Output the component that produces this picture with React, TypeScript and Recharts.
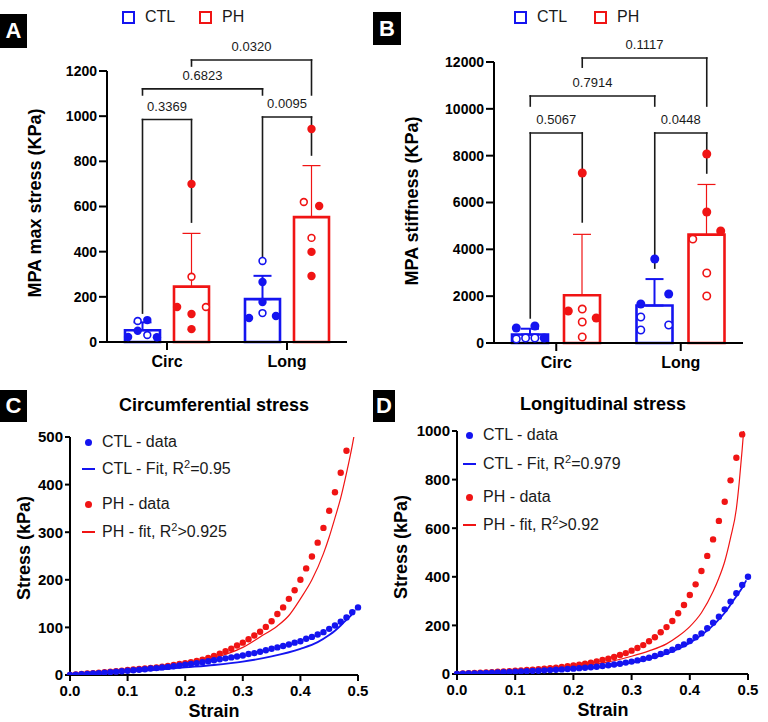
import React from 'react'
import { ComposedChart, Bar, ErrorBar, Scatter, Line, XAxis, YAxis, ReferenceLine } from 'recharts'

const FONT = '"Liberation Sans", Arial, Helvetica, sans-serif'
const BLUE = '#1414f0'
const RED = '#f01414'
const INK = '#1a1a1a'

const groups = ['Circ', 'Long']
const seriesNames = ['CTL', 'PH']
const seriesColors = [BLUE, RED]

// A - MPA max stress (KPa), mean and SD per group
const stressCtlMean = [52, 190]
const stressCtlSd = [35, 103]
const stressPhMean = [245, 553]
const stressPhSd = [236, 228]

// A - individual samples (1 = hollow marker, slot = column in the dot plot)
const stressCtlVals = [[22, 50, 97, 93, 31, 21], [106, 128, 115, 177, 266, 359]]
const stressCtlHollow = [[0, 0, 0, 1, 1, 0], [0, 1, 0, 0, 0, 1]]
const stressCtlSlot = [[-1.5, -0.5, 0.5, -0.5, 0.5, 1.5], [-1.4, 0, 1.4, 0, 0, 0]]
const stressPhVals = [[155, 124, 57, 155, 289, 700], [943, 620, 602, 461, 399, 292]]
const stressPhHollow = [[0, 0, 0, 1, 1, 0], [0, 1, 0, 1, 0, 0]]
const stressPhSlot = [[-1.5, 0, 0, 1.5, 0, 0], [0, -0.8, 0.8, 0, 0, 0]]

// B - MPA stiffness (KPa)
const stiffCtlMean = [360, 1600]
const stiffCtlSd = [250, 1130]
const stiffPhMean = [2040, 4630]
const stiffPhSd = [2600, 2140]

const stiffCtlVals = [[640, 726, 213, 170, 213, 213], [1665, 2092, 3586, 1110, 555, 768]]
const stiffCtlHollow = [[0, 0, 0, 1, 1, 1], [0, 0, 0, 1, 1, 1]]
const stiffCtlSlot = [[-1.5, 0.5, 1.5, -1.5, -0.5, 0.5], [-1.5, 1.5, 0, -1.5, -1.5, 1.5]]
const stiffPhVals = [[1366, 1068, 7260, 1450, 897, 256], [8070, 5594, 4783, 4440, 2990, 2007]]
const stiffPhHollow = [[0, 0, 0, 1, 1, 1], [0, 0, 0, 1, 1, 1]]
const stiffPhSlot = [[-1.5, 1.5, 0, 0, 0, 0], [0, 0, 1.5, -1.5, 0, 0]]

type Bracket = { p: string; from: [number, number]; to: [number, number]; level: number; dropFrom: number; dropTo: number }

const stressBrackets: Bracket[] = [
  { p: '0.3369', from: [0, 0], to: [0, 1], level: 985, dropFrom: 128, dropTo: 531 },
  { p: '0.6823', from: [0, 0], to: [1, 0], level: 1121, dropFrom: 1094, dropTo: 1094 },
  { p: '0.0095', from: [1, 0], to: [1, 1], level: 996, dropFrom: 377, dropTo: 828 },
  { p: '0.0320', from: [0, 1], to: [1, 1], level: 1249, dropFrom: 1222, dropTo: 1094 },
]
const stiffBrackets: Bracket[] = [
  { p: '0.5067', from: [0, 0], to: [0, 1], level: 8970, dropFrom: 1070, dropTo: 5170 },
  { p: '0.7914', from: [0, 0], to: [1, 0], level: 10550, dropFrom: 10120, dropTo: 10120 },
  { p: '0.0448', from: [1, 0], to: [1, 1], level: 8970, dropFrom: 3200, dropTo: 7260 },
  { p: '0.1117', from: [0, 1], to: [1, 1], level: 12170, dropFrom: 11780, dropTo: 10120 },
]

// C / D - stress-strain curves
const strain = [0, 0.01, 0.02, 0.03, 0.04, 0.05, 0.06, 0.07, 0.08, 0.09, 0.1, 0.11, 0.12, 0.13, 0.14, 0.15, 0.16, 0.17, 0.18, 0.19, 0.2, 0.21, 0.22, 0.23, 0.24, 0.25, 0.26, 0.27, 0.28, 0.29, 0.3, 0.31, 0.32, 0.33, 0.34, 0.35, 0.36, 0.37, 0.38, 0.39, 0.4, 0.41, 0.42, 0.43, 0.44, 0.45, 0.46, 0.47, 0.48, 0.49, 0.5]

const circCtl = [0, 0.8, 1.6, 2.4, 3.2, 4, 5, 6, 7, 8, 9, 10, 11, 12, 13.5, 14.5, 16, 17, 18.5, 20, 21.5, 23, 25, 27, 29, 31, 33, 35, 37, 39, 41, 44, 46, 49, 52, 55, 58, 61, 64, 68, 71, 76, 80, 85, 90, 97, 104, 112, 121, 132, 142]
const circPh = [0, 1, 2, 3, 4, 5, 6, 7, 8, 9, 10.5, 11.5, 12.5, 13.5, 15, 16, 17.5, 19, 21, 23, 25, 27, 29.5, 32, 36, 40, 45, 50, 55, 62, 68, 75, 83, 91, 101, 113, 128, 142, 160, 178, 200, 224, 249, 278, 309, 345, 384, 425, 471]
const circCtlFitX = [0, 0.05, 0.1, 0.15, 0.2, 0.25, 0.3, 0.35, 0.4, 0.43, 0.45, 0.46, 0.47, 0.48, 0.49, 0.495]
const circCtlFitY = [0, 3, 7, 11, 16, 21, 28, 39, 55, 69, 84, 93, 104, 116, 128, 136]
const circPhFitX = [0, 0.05, 0.1, 0.15, 0.2, 0.25, 0.3, 0.33, 0.36, 0.38, 0.4, 0.42, 0.44, 0.45, 0.46, 0.47, 0.48, 0.49, 0.495]
const circPhFitY = [0, 5, 11, 17, 24, 36, 58, 80, 103, 125, 160, 200, 255, 290, 330, 372, 424, 482, 515]
const circR2 = ['=0.95', '>0.925']

const longCtl = [0, 0.9, 1.8, 2.7, 3.5, 4.5, 5.5, 6.5, 7.5, 8.5, 9.5, 10.5, 11.5, 12.5, 13.5, 15, 16, 17.5, 19, 20.5, 22, 24, 26, 28, 30, 33, 36, 39, 42, 47, 51, 56, 62, 67, 74, 82, 91, 100, 111, 122, 136, 151, 167, 188, 211, 236, 266, 298, 332, 366, 400]
const longPh = [0, 2, 3, 4, 5, 6, 7.5, 9, 10.5, 12, 13.5, 15, 16.5, 18, 20, 22, 24, 26, 29, 32, 35, 38.5, 42, 47, 52, 58, 63, 70, 78, 86, 96, 107, 119, 135, 151, 172, 193, 218, 250, 284, 325, 369, 424, 486, 554, 630, 709, 797, 890, 986]
const longCtlFitX = [0, 0.05, 0.1, 0.15, 0.2, 0.25, 0.3, 0.33, 0.36, 0.38, 0.4, 0.42, 0.44, 0.45, 0.46, 0.47, 0.48, 0.49, 0.497]
const longCtlFitY = [0, 4, 8.5, 13.5, 20, 30, 47, 62, 84, 103, 128, 160, 200, 225, 252, 285, 320, 355, 385]
const longPhFitX = [0, 0.05, 0.1, 0.15, 0.2, 0.25, 0.3, 0.33, 0.36, 0.38, 0.4, 0.42, 0.44, 0.45, 0.46, 0.47, 0.48, 0.485, 0.49, 0.495]
const longPhFitY = [0, 6, 13, 21, 31, 45, 73, 95, 124, 155, 195, 252, 339, 395, 463, 560, 680, 790, 925, 1075]
const longR2 = ['=0.979', '>0.92']

const axisStroke = { stroke: '#000', strokeWidth: 2 }

const dotShape = (color: string, r: number) => (props: any) => {
  const { cx, cy, payload } = props
  if (cx == null || cy == null) return <g />
  return payload.hollow
    ? <circle cx={cx} cy={cy} r={r - 0.8} fill="#fff" stroke={color} strokeWidth={1.6} />
    : <circle cx={cx} cy={cy} r={r} fill={color} />
}

function BarPanel(props: any) {
  const { left, top, width, height, margin, plotWidth, barSize, barGap, slotPx, dotR, yMax, yTicks,
    ctlMean, ctlSd, phMean, phSd, ctlVals, ctlHollow, ctlSlot, phVals, phHollow, phSlot, brackets } = props

  const band = plotWidth / groups.length
  const half = (barSize + barGap) / 2 / band
  const barX = (g: number, s: number) => g + 0.5 + (s === 0 ? -half : half)

  const rows = groups.map((g, i) => ({
    g,
    ctl: ctlMean[i],
    ph: phMean[i],
    ctlErr: [0, ctlSd[i]],
    phErr: [0, phSd[i]],
  }))

  const toPts = (vals: number[][], hollow: number[][], slot: number[][], s: number) =>
    vals.flatMap((arr, g) => arr.map((v, i) => ({
      x: barX(g, s) + (slot[g][i] * slotPx) / band,
      v,
      hollow: hollow[g][i] === 1,
    })))

  const ctlPts = toPts(ctlVals, ctlHollow, ctlSlot, 0)
  const phPts = toPts(phVals, phHollow, phSlot, 1)

  const seg = { xAxisId: 'num', ifOverflow: 'visible' as const, stroke: INK, strokeWidth: 1.6, strokeLinecap: 'square' as const }

  return (
    <div style={{ position: 'absolute', left, top }}>
      <ComposedChart width={width} height={height} data={rows} margin={margin} barGap={barGap}>
        <XAxis xAxisId="cat" dataKey="g" height={30} tickSize={8} tickMargin={6} interval={0}
          axisLine={axisStroke} tickLine={axisStroke}
          tick={{ fill: '#000', fontSize: 16, fontWeight: 700 }} />
        <XAxis xAxisId="num" type="number" dataKey="x" domain={[0, groups.length]} allowDataOverflow hide />
        <YAxis domain={[0, yMax]} ticks={yTicks} width={60} tickSize={8} tickMargin={2} interval={0}
          axisLine={axisStroke} tickLine={axisStroke}
          tick={{ fill: '#000', fontSize: 14, fontWeight: 700 }} />
        <Bar xAxisId="cat" dataKey="ctl" barSize={barSize} fill="#fff" stroke={BLUE} strokeWidth={2.6} isAnimationActive={false}>
          <ErrorBar dataKey="ctlErr" direction="y" width={9} stroke={BLUE} strokeWidth={2} />
        </Bar>
        <Bar xAxisId="cat" dataKey="ph" barSize={barSize} fill="#fff" stroke={RED} strokeWidth={2.6} isAnimationActive={false}>
          <ErrorBar dataKey="phErr" direction="y" width={9} stroke={RED} strokeWidth={1.2} />
        </Bar>
        {brackets.map((b: Bracket, i: number) => {
          const xa = barX(b.from[0], b.from[1])
          const xb = barX(b.to[0], b.to[1])
          return [
            <ReferenceLine key={`h${i}`} {...seg} segment={[{ x: xa, y: b.level }, { x: xb, y: b.level }]}
              label={{ value: b.p, position: 'top', offset: 9, fill: INK, fontSize: 13 }} />,
            <ReferenceLine key={`a${i}`} {...seg} segment={[{ x: xa, y: b.level }, { x: xa, y: b.dropFrom }]} />,
            <ReferenceLine key={`b${i}`} {...seg} segment={[{ x: xb, y: b.level }, { x: xb, y: b.dropTo }]} />,
          ]
        })}
        <Scatter xAxisId="num" data={ctlPts} dataKey="v" shape={dotShape(BLUE, dotR)} isAnimationActive={false} />
        <Scatter xAxisId="num" data={phPts} dataKey="v" shape={dotShape(RED, dotR)} isAnimationActive={false} />
      </ComposedChart>
    </div>
  )
}

function CurvePanel(props: any) {
  const { left, top, width, height, margin, yMax, yTicks, ctl, ph, ctlFitX, ctlFitY, phFitX, phFitY } = props
  const ctlPts = ctl.map((y: number, i: number) => ({ x: strain[i], y }))
  const phPts = ph.map((y: number, i: number) => ({ x: strain[i], y }))
  const ctlFit = ctlFitX.map((x: number, i: number) => ({ x, y: ctlFitY[i] }))
  const phFit = phFitX.map((x: number, i: number) => ({ x, y: phFitY[i] }))
  const round = (r: number, color: string) => (p: any) =>
    p.cx == null ? <g /> : <circle cx={p.cx} cy={p.cy} r={r} fill={color} />

  return (
    <div style={{ position: 'absolute', left, top }}>
      <ComposedChart width={width} height={height} margin={margin}>
        <XAxis type="number" dataKey="x" domain={[0, 0.5]} ticks={[0, 0.1, 0.2, 0.3, 0.4, 0.5]}
          tickFormatter={(v: number) => v.toFixed(1)} height={30} tickSize={6} tickMargin={4}
          axisLine={axisStroke} tickLine={axisStroke} interval={0}
          tick={{ fill: '#000', fontSize: 15, fontWeight: 700 }} />
        <YAxis type="number" domain={[0, yMax]} ticks={yTicks} width={60} tickSize={5} tickMargin={2} interval={0}
          allowDataOverflow axisLine={axisStroke} tickLine={axisStroke}
          tick={{ fill: '#000', fontSize: 15, fontWeight: 700 }} />
        <Line data={phFit} dataKey="y" type="monotone" dot={false} stroke={RED} strokeWidth={1.2} isAnimationActive={false} />
        <Line data={ctlFit} dataKey="y" type="monotone" dot={false} stroke={BLUE} strokeWidth={1.8} isAnimationActive={false} />
        <Scatter data={phPts} dataKey="y" shape={round(3.2, RED)} isAnimationActive={false} />
        <Scatter data={ctlPts} dataKey="y" shape={round(3.2, BLUE)} isAnimationActive={false} />
      </ComposedChart>
    </div>
  )
}

function PanelTag({ letter, left, top, w, h }: { letter: string; left: number; top: number; w: number; h: number }) {
  return (
    <div style={{ position: 'absolute', left, top, width: w, height: h, background: '#000', color: '#fff',
      fontWeight: 700, fontSize: 22, display: 'flex', alignItems: 'center', justifyContent: 'center' }}>
      {letter}
    </div>
  )
}

function Caption({ x, y, text, size = 18, rotate = false }: { x: number; y: number; text: string; size?: number; rotate?: boolean }) {
  return (
    <div style={{ position: 'absolute', left: x, top: y, transform: `translate(-50%, -50%)${rotate ? ' rotate(-90deg)' : ''}`,
      whiteSpace: 'nowrap', fontWeight: 700, fontSize: size, lineHeight: 1, color: '#000' }}>
      {text}
    </div>
  )
}

function BoxLegend({ xs, top }: { xs: number[]; top: number }) {
  return (
    <>
      {seriesNames.map((n, i) => (
        <div key={n} style={{ position: 'absolute', left: xs[i], top, height: 14, display: 'flex', alignItems: 'center', fontSize: 16, color: INK }}>
          <span style={{ width: 9, height: 9, border: `2.5px solid ${seriesColors[i]}`, marginRight: 10, flex: 'none' }} />
          <span>{n}</span>
        </div>
      ))}
    </>
  )
}

function CurveLegend({ markX, textX, rows, r2 }: { markX: number; textX: number; rows: number[]; r2: string[] }) {
  const sup = { fontSize: 11, position: 'relative' as const, top: -6, verticalAlign: 'baseline' }
  const items = [
    { dot: true, color: BLUE, w: 0, label: <>CTL - data</> },
    { dot: false, color: BLUE, w: 2.5, label: <>CTL - Fit, R<span style={sup}>2</span>{r2[0]}</> },
    { dot: true, color: RED, w: 0, label: <>PH - data</> },
    { dot: false, color: RED, w: 1.2, label: <>PH - fit, R<span style={sup}>2</span>{r2[1]}</> },
  ]
  return (
    <>
      {items.map((it, i) => (
        <React.Fragment key={i}>
          {it.dot
            ? <div style={{ position: 'absolute', left: markX - 3.5, top: rows[i] - 3.5, width: 7, height: 7, borderRadius: '50%', background: it.color }} />
            : <div style={{ position: 'absolute', left: markX - 6.5, top: rows[i] - it.w / 2, width: 13, height: it.w, background: it.color }} />}
          <div style={{ position: 'absolute', left: textX, top: rows[i] - 10, lineHeight: '20px', fontSize: 16, color: INK, whiteSpace: 'nowrap' }}>
            {it.label}
          </div>
        </React.Fragment>
      ))}
    </>
  )
}

export default function App() {
  return (
    <div style={{ position: 'absolute', left: 0, top: 0, width: 768, height: 722, background: '#fff', fontFamily: FONT, overflow: 'hidden' }}>
      <BarPanel left={0} top={0} width={384} height={380} margin={{ top: 71, right: 37, bottom: 8, left: 47 }}
        plotWidth={240} barSize={35} barGap={14} slotPx={9.6} dotR={4.2}
        yMax={1200} yTicks={[0, 200, 400, 600, 800, 1000, 1200]}
        ctlMean={stressCtlMean} ctlSd={stressCtlSd} phMean={stressPhMean} phSd={stressPhSd}
        ctlVals={stressCtlVals} ctlHollow={stressCtlHollow} ctlSlot={stressCtlSlot}
        phVals={stressPhVals} phHollow={stressPhHollow} phSlot={stressPhSlot} brackets={stressBrackets} />
      <BarPanel left={384} top={0} width={384} height={380} margin={{ top: 62, right: 25, bottom: 7, left: 50 }}
        plotWidth={249} barSize={36} barGap={16} slotPx={9.3} dotR={4.5}
        yMax={12000} yTicks={[0, 2000, 4000, 6000, 8000, 10000, 12000]}
        ctlMean={stiffCtlMean} ctlSd={stiffCtlSd} phMean={stiffPhMean} phSd={stiffPhSd}
        ctlVals={stiffCtlVals} ctlHollow={stiffCtlHollow} ctlSlot={stiffCtlSlot}
        phVals={stiffPhVals} phHollow={stiffPhHollow} phSlot={stiffPhSlot} brackets={stiffBrackets} />
      <CurvePanel left={0} top={420} width={384} height={302} margin={{ top: 17, right: 26, bottom: 17, left: 10 }}
        yMax={500} yTicks={[0, 100, 200, 300, 400, 500]} ctl={circCtl} ph={circPh}
        ctlFitX={circCtlFitX} ctlFitY={circCtlFitY} phFitX={circPhFitX} phFitY={circPhFitY} />
      <CurvePanel left={384} top={420} width={384} height={302} margin={{ top: 11, right: 20, bottom: 18, left: 13 }}
        yMax={1000} yTicks={[0, 200, 400, 600, 800, 1000]} ctl={longCtl} ph={longPh}
        ctlFitX={longCtlFitX} ctlFitY={longCtlFitY} phFitX={longPhFitX} phFitY={longPhFitY} />

      <PanelTag letter="A" left={0} top={14} w={27} h={34} />
      <PanelTag letter="B" left={373} top={12} w={28} h={33} />
      <PanelTag letter="C" left={0} top={390} w={27} h={32} />
      <PanelTag letter="D" left={373} top={390} w={22} h={32} />

      <BoxLegend xs={[122, 199]} top={10} />
      <BoxLegend xs={[514, 594]} top={10} />

      <Caption x={35} y={203} text="MPA max stress (KPa)" rotate />
      <Caption x={412} y={201} text="MPA stiffness (KPa)" rotate />
      <Caption x={214} y={405} text="Circumferential stress" />
      <Caption x={603} y={404} text="Longitudinal stress" />
      <Caption x={24} y={548} text="Stress (kPa)" rotate />
      <Caption x={401} y={547} text="Stress (kPa)" rotate />
      <Caption x={214} y={711} text="Strain" />
      <Caption x={603} y={710} text="Strain" />

      <CurveLegend markX={88} textX={102} rows={[442, 469, 504, 532]} r2={circR2} />
      <CurveLegend markX={469} textX={483} rows={[435, 464, 497, 525]} r2={longR2} />
    </div>
  )
}
